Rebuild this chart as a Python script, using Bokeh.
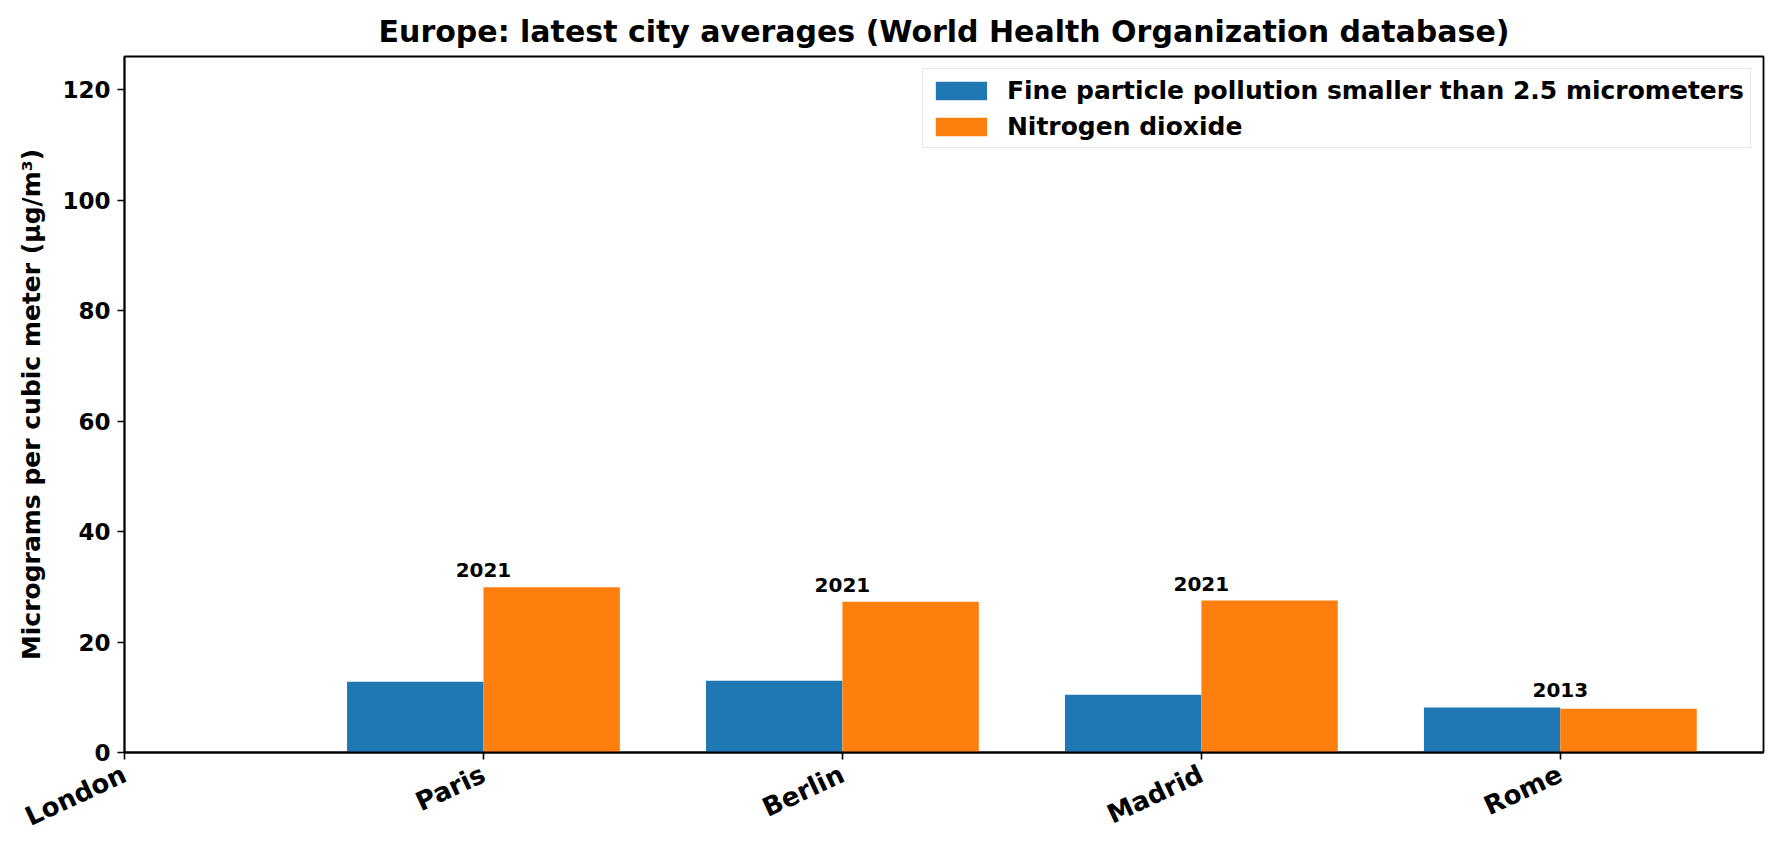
import math
from bokeh.plotting import figure
from bokeh.models import ColumnDataSource, FixedTicker, Legend, LegendItem, Range1d
from bokeh.core.properties import value
from bokeh.embed import file_html
from bokeh.resources import INLINE

# ---- data ----
cities = ["London", "Paris", "Berlin", "Madrid", "Rome"]
pm25 = [None, 12.8, 13.0, 10.45, 8.15]
no2 = [None, 29.9, 27.3, 27.5, 7.9]
years = ["", "2021", "2021", "2021", "2013"]
y_ticks = [0, 20, 40, 60, 80, 100, 120]

FONT = "DejaVu Sans"
BAR_W = 0.38

idx = [i for i, v in enumerate(pm25) if v is not None]
src = ColumnDataSource(dict(
    xpm=[i - BAR_W / 2 for i in idx],
    xno=[i + BAR_W / 2 for i in idx],
    pm=[pm25[i] for i in idx],
    no=[no2[i] for i in idx],
    xl=idx,
    yl=[max(pm25[i], no2[i]) for i in idx],
    yr=[years[i] for i in idx],
))

p = figure(
    frame_width=1639, frame_height=696,
    min_border_left=124, min_border_right=18, min_border_top=56, min_border_bottom=90,
    x_range=Range1d(0, 4.566), y_range=Range1d(0, 126),
    output_backend="svg", toolbar_location=None,
    title="Europe: latest city averages (World Health Organization database)",
)
p.title.align = "center"
p.title.text_font = FONT
p.title.text_font_size = "30px"
p.title.text_font_style = "bold"
p.title.text_color = "black"
p.title.standoff = 15

r1 = p.vbar(x="xpm", top="pm", width=BAR_W, bottom=0, source=src,
            fill_color="#1f77b4", line_color=None)
r2 = p.vbar(x="xno", top="no", width=BAR_W, bottom=0, source=src,
            fill_color="#ff7f0e", line_color=None)

p.text(x="xl", y="yl", text="yr", source=src, text_align="center",
       text_baseline="alphabetic", y_offset=-17,
       text_font=value(FONT), text_font_style="bold", text_font_size="20px",
       text_color="black")

p.xgrid.visible = False
p.ygrid.visible = False
p.outline_line_color = "black"
p.outline_line_width = 1.8
p.outline_line_alpha = 1.0

for ax in (p.xaxis[0], p.yaxis[0]):
    ax.axis_line_width = 1.8
    ax.axis_line_color = "black"
    ax.major_tick_line_width = 1.6
    ax.major_tick_out = 7
    ax.major_tick_in = 0
    ax.minor_tick_line_color = None
    ax.major_label_text_font = FONT
    ax.major_label_text_font_style = "bold"
    ax.major_label_text_font_size = "23px"
    ax.major_label_text_color = "black"
    ax.major_label_standoff = 7

p.xaxis[0].ticker = FixedTicker(ticks=list(range(len(cities))))
p.xaxis[0].major_label_overrides = {i: c for i, c in enumerate(cities)}
p.xaxis[0].major_label_orientation = math.radians(25)
p.xaxis[0].major_label_text_font_size = "26px"
p.xaxis[0].major_label_standoff = 13

p.yaxis[0].ticker = FixedTicker(ticks=y_ticks)
p.yaxis[0].axis_label = "Micrograms per cubic meter (µg/m³)"
p.yaxis[0].axis_label_text_font = FONT
p.yaxis[0].axis_label_text_font_style = "bold"
p.yaxis[0].axis_label_text_font_size = "25px"
p.yaxis[0].axis_label_text_color = "black"
p.yaxis[0].axis_label_standoff = 13

legend = Legend(items=[
    LegendItem(label="Fine particle pollution smaller than 2.5 micrometers", renderers=[r1]),
    LegendItem(label="Nitrogen dioxide", renderers=[r2]),
], location="top_right")
legend.label_text_font = FONT
legend.label_text_font_style = "bold"
legend.label_text_font_size = "25px"
legend.label_text_color = "black"
legend.glyph_width = 64
legend.glyph_height = 23
legend.label_standoff = 14
legend.label_height = 30
legend.spacing = 6
legend.padding = 6
legend.margin = 12
legend.border_line_color = "#d0d0d0"
legend.border_line_width = 1.5
legend.background_fill_alpha = 1.0
p.add_layout(legend)

open("out.html", "w").write(file_html(p, INLINE))
